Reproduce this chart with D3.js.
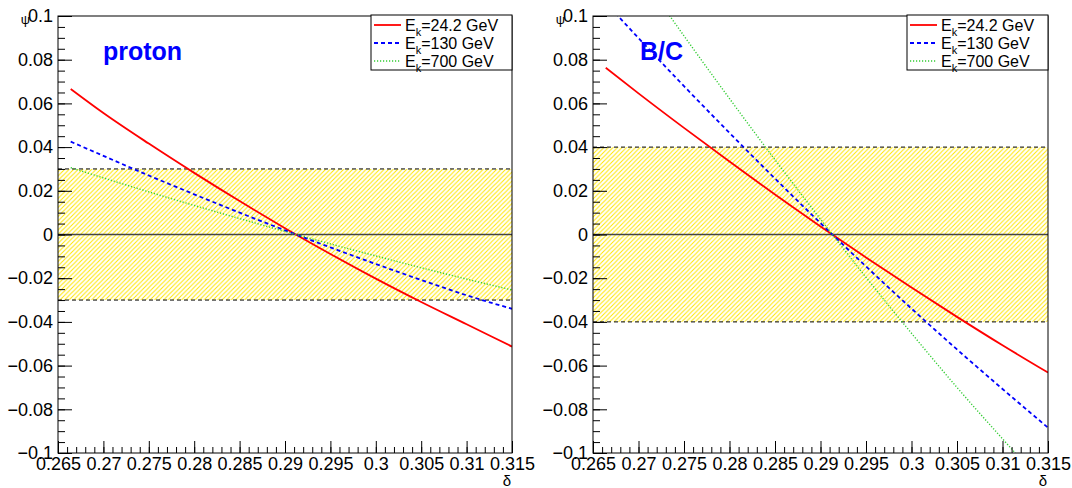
<!DOCTYPE html>
<html>
<head>
<meta charset="utf-8">
<script src="https://cdn.jsdelivr.net/npm/d3@7"></script>
<style>
  body { margin: 0; background: #fff; }
  svg { display: block; }
  text { font-family: "Liberation Sans", Arial, Helvetica, sans-serif; }
</style>
</head>
<body>
<svg id="chart" width="1072" height="488"></svg>
<script>
// Spectral index delta at which each curve is evaluated
const deltaGrid = [0.2664, 0.270, 0.275, 0.280, 0.285, 0.290, 0.295, 0.300, 0.305, 0.310, 0.315];

// psi(delta) for protons at three kinetic energies
const protonE24  = [0.0666, 0.0556, 0.0416, 0.0282, 0.0153, 0.0029, -0.0089, -0.0202, -0.0309, -0.0411, -0.0513];
const protonE130 = [0.0425, 0.0360, 0.0270, 0.0184, 0.0100, 0.0019, -0.0059, -0.0135, -0.0208, -0.0278, -0.0340];
const protonE700 = [0.0306, 0.0259, 0.0195, 0.0133, 0.0073, 0.0014, -0.0043, -0.0098, -0.0152, -0.0204, -0.0254];

// psi(delta) for the B/C ratio at the same energies
const bcE24  = [0.0763, 0.0646, 0.0488, 0.0334, 0.0183, 0.0037, -0.0105, -0.0243, -0.0377, -0.0507, -0.0632];
const bcE130 = [0.1061, 0.0899, 0.0679, 0.0465, 0.0256, 0.0052, -0.0146, -0.0339, -0.0526, -0.0707, -0.0884];
const bcE700 = [0.1419, 0.1203, 0.0909, 0.0622, 0.0342, 0.0070, -0.0196, -0.0452, -0.0700, -0.0935, -0.1165];

// Half-width of the allowed band around psi = 0
const protonBand = 0.03;
const bcBand = 0.04;

// Legend entries
const energyLabels = ["24.2", "130", "700"];

// Axis ticks
const xTickValues = [0.265, 0.270, 0.275, 0.280, 0.285, 0.290, 0.295, 0.300, 0.305, 0.310, 0.315];
const xTickLabels = ["0.265", "0.27", "0.275", "0.28", "0.285", "0.29", "0.295", "0.3", "0.305", "0.31", "0.315"];
const yTickValues = [-0.1, -0.08, -0.06, -0.04, -0.02, 0, 0.02, 0.04, 0.06, 0.08, 0.1];
const yTickLabels = ["\u22120.1", "\u22120.08", "\u22120.06", "\u22120.04", "\u22120.02", "0", "0.02", "0.04", "0.06", "0.08", "0.1"];

const seriesStyle = [
  { color: "#ff0000", width: 1.8, dash: null },
  { color: "#0000ff", width: 1.8, dash: "4,3" },
  { color: "#33cc33", width: 1.4, dash: "1.2,1.8" }
];

const panels = [
  { title: "proton", x0: 58,  x1: 512,  titleX: 103, band: protonBand, series: [protonE24, protonE130, protonE700] },
  { title: "B/C",    x0: 593, x1: 1048, titleX: 640, band: bcBand,     series: [bcE24, bcE130, bcE700] }
];

const yTop = 16, yBottom = 453;
const svg = d3.select("#chart");
const defs = svg.append("defs");

// "/" hatching used for the allowed band
const hatch = defs.append("pattern")
  .attr("id", "hatch")
  .attr("patternUnits", "userSpaceOnUse")
  .attr("width", 4.5).attr("height", 4.5);
hatch.append("path")
  .attr("d", "M-1,1 L1,-1 M0,4.5 L4.5,0 M3.5,5.5 L5.5,3.5")
  .attr("stroke", "#ffe600")
  .attr("stroke-width", 1);

const y = d3.scaleLinear().domain([-0.1, 0.1]).range([yBottom, yTop]);

panels.forEach((p, pi) => {
  const x = d3.scaleLinear().domain([0.265, 0.315]).range([p.x0, p.x1]);
  const g = svg.append("g");

  defs.append("clipPath").attr("id", "clip" + pi)
    .append("rect")
    .attr("x", p.x0).attr("y", yTop)
    .attr("width", p.x1 - p.x0).attr("height", yBottom - yTop);

  // allowed band
  g.append("rect")
    .attr("x", p.x0).attr("width", p.x1 - p.x0)
    .attr("y", y(p.band)).attr("height", y(-p.band) - y(p.band))
    .attr("fill", "url(#hatch)");
  [p.band, -p.band].forEach(v => {
    g.append("line")
      .attr("x1", p.x0).attr("x2", p.x1)
      .attr("y1", y(v)).attr("y2", y(v))
      .attr("stroke", "#000").attr("stroke-width", 1)
      .attr("stroke-dasharray", "4,3");
  });

  // psi = 0 reference
  g.append("line")
    .attr("x1", p.x0).attr("x2", p.x1)
    .attr("y1", y(0)).attr("y2", y(0))
    .attr("stroke", "#444").attr("stroke-width", 1.4);

  // curves
  const line = d3.line()
    .x((d, i) => x(deltaGrid[i]))
    .y(d => y(d))
    .curve(d3.curveMonotoneX);
  const curves = g.append("g").attr("clip-path", "url(#clip" + pi + ")");
  p.series.forEach((s, si) => {
    const st = seriesStyle[si];
    curves.append("path")
      .attr("d", line(s))
      .attr("fill", "none")
      .attr("stroke", st.color)
      .attr("stroke-width", st.width)
      .attr("stroke-dasharray", st.dash);
  });

  // frame
  g.append("rect")
    .attr("x", p.x0).attr("y", yTop)
    .attr("width", p.x1 - p.x0).attr("height", yBottom - yTop)
    .attr("fill", "none").attr("stroke", "#000").attr("stroke-width", 1);

  // x axis: inward ticks
  const xMinor = d3.range(0.265, 0.3155, 0.001);
  const xMin = g.append("g").attr("transform", `translate(0,${yBottom})`)
    .call(d3.axisBottom(x).tickValues(xMinor).tickSize(-6).tickFormat(""));
  const xMaj = g.append("g").attr("transform", `translate(0,${yBottom})`)
    .call(d3.axisBottom(x).tickValues(xTickValues).tickSize(-12).tickPadding(4)
      .tickFormat((d, i) => xTickLabels[i]));
  [xMin, xMaj].forEach(a => {
    a.select(".domain").remove();
    a.selectAll("line").attr("stroke", "#000");
  });
  xMaj.selectAll("text")
    .attr("fill", "#000")
    .style("font-size", "18px");

  // y axis: inward ticks
  const yMinor = d3.range(-0.1, 0.1001, 0.005);
  const yMin = g.append("g").attr("transform", `translate(${p.x0},0)`)
    .call(d3.axisLeft(y).tickValues(yMinor).tickSize(-7).tickFormat(""));
  const yMaj = g.append("g").attr("transform", `translate(${p.x0},0)`)
    .call(d3.axisLeft(y).tickValues(yTickValues).tickSize(-14).tickPadding(5)
      .tickFormat((d, i) => yTickLabels[i]));
  [yMin, yMaj].forEach(a => {
    a.select(".domain").remove();
    a.selectAll("line").attr("stroke", "#000");
  });
  yMaj.selectAll("text")
    .attr("fill", "#000")
    .style("font-size", "18px");

  // axis titles
  g.append("text")
    .attr("x", p.x0 - 28).attr("y", 24)
    .attr("text-anchor", "end")
    .style("font-size", "13px")
    .text("\u03c8");
  g.append("text")
    .attr("x", p.x1 - 1).attr("y", 486)
    .attr("text-anchor", "end")
    .style("font-size", "15px")
    .text("\u03b4");

  // panel title
  g.append("text")
    .attr("x", p.titleX).attr("y", 60)
    .attr("fill", "#0000ff")
    .style("font-size", "25px")
    .style("font-weight", "bold")
    .text(p.title);

  // legend
  const lw = 141, lh = 55;
  const lx = p.x1 - lw, ly = yTop - 1;
  const leg = g.append("g");
  leg.append("rect")
    .attr("x", lx).attr("y", ly).attr("width", lw).attr("height", lh)
    .attr("fill", "#fff").attr("stroke", "#000").attr("stroke-width", 1);
  energyLabels.forEach((e, i) => {
    const st = seriesStyle[i];
    const cy = ly + 10 + i * 18;
    leg.append("line")
      .attr("x1", lx + 3).attr("x2", lx + 30)
      .attr("y1", cy).attr("y2", cy)
      .attr("stroke", st.color).attr("stroke-width", st.width)
      .attr("stroke-dasharray", st.dash);
    const t = leg.append("text")
      .attr("x", lx + 34).attr("y", cy + 5.5)
      .attr("fill", "#000")
      .style("font-size", "16px");
    t.append("tspan").text("E");
    t.append("tspan").attr("dy", 5).style("font-size", "11px").text("k");
    t.append("tspan").attr("dy", -5).text("=" + e + " GeV");
  });
});
</script>
</body>
</html>
